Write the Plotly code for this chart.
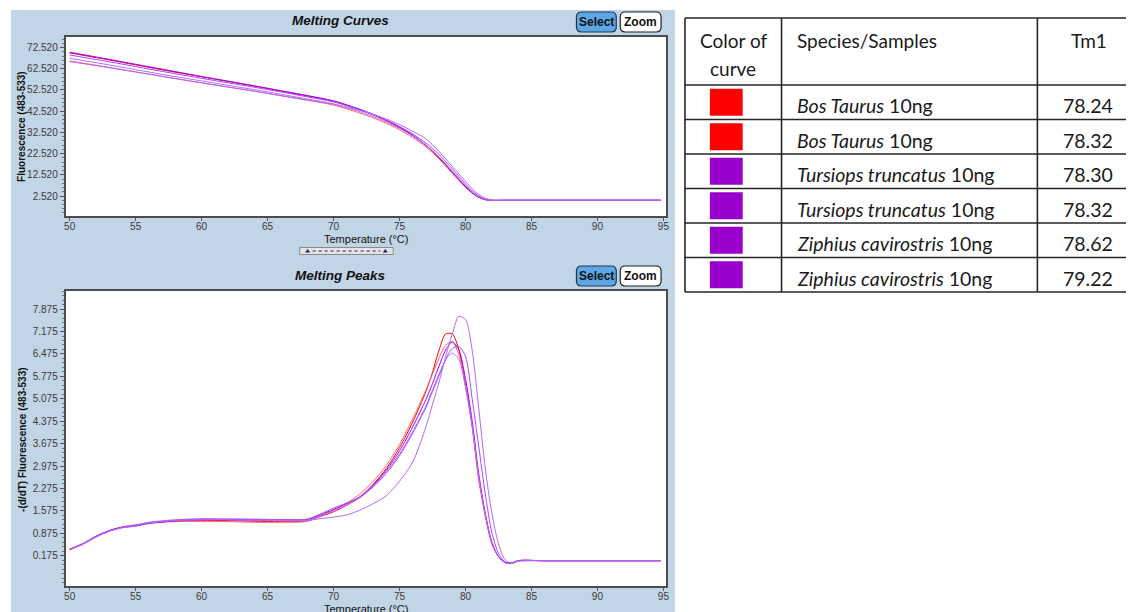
import plotly.graph_objects as go

W, H = 1129, 612

# ---------------- data ----------------
SAMPLE_NAMES = ["Bos Taurus 10ng A", "Bos Taurus 10ng B", "Tursiops truncatus 10ng A",
                "Tursiops truncatus 10ng B", "Ziphius cavirostris 10ng A", "Ziphius cavirostris 10ng B"]
LINE_COLORS = ["#ff0000", "#ff6464", "#9900ff", "#b46eff", "#a347ff", "#b266ff"]

T_CURVE = [50, 52, 54, 56, 58, 60, 62, 64, 66, 68, 70, 72, 73, 74, 75, 76, 77, 78, 79, 80,
           80.5, 81, 81.5, 82, 83, 86, 90, 94.8]
F_BOS_A = [70.0, 67.8, 65.5, 63.2, 60.9, 58.7, 56.5, 54.3, 52.0, 49.7, 47.2, 43.2, 40.8, 38.0, 34.8,
           31.0, 26.3, 20.5, 13.6, 6.8, 4.0, 2.0, 0.8, 0.5, 0.5, 0.5, 0.5, 0.5]
F_BOS_B = [66.2, 64.2, 62.1, 60.0, 57.9, 55.9, 53.9, 51.9, 49.8, 47.7, 45.4, 41.6, 39.4, 36.8, 33.8,
           30.1, 25.7, 20.0, 13.2, 6.6, 3.9, 1.9, 0.8, 0.5, 0.5, 0.5, 0.5, 0.5]
F_TUR_A = [70.3, 68.1, 65.8, 63.5, 61.2, 58.9, 56.7, 54.5, 52.2, 49.9, 47.4, 43.4, 41.0, 38.2, 35.0,
           31.2, 26.5, 20.7, 13.8, 7.0, 4.1, 2.0, 0.8, 0.5, 0.5, 0.5, 0.5, 0.5]
F_TUR_B = [67.4, 65.4, 63.2, 61.0, 58.8, 56.8, 54.7, 52.7, 50.5, 48.3, 46.0, 42.2, 40.0, 37.4, 34.4,
           30.8, 26.4, 20.9, 14.3, 7.5, 4.5, 2.3, 0.9, 0.5, 0.5, 0.5, 0.5, 0.5]
F_ZIP_A = [69.0, 66.9, 64.7, 62.4, 60.2, 58.0, 55.9, 53.8, 51.6, 49.3, 46.9, 43.1, 40.9, 38.3, 35.3,
           31.8, 27.5, 22.0, 15.3, 8.3, 5.0, 2.6, 1.0, 0.5, 0.5, 0.5, 0.5, 0.5]
F_ZIP_B = [65.9, 64.0, 62.0, 60.0, 57.9, 55.9, 53.9, 52.0, 49.9, 47.8, 45.8, 42.8, 41.0, 38.8, 36.2,
           33.0, 29.5, 23.5, 16.5, 9.5, 6.0, 3.3, 1.5, 0.6, 0.5, 0.5, 0.5, 0.5]

T_PEAK = [50, 51, 52, 53, 54, 55, 56, 58, 60, 62, 64, 66, 68, 69, 70, 71, 72, 73, 74, 75, 76, 77,
          77.5, 78, 78.5, 79, 79.5, 80, 80.5, 81, 81.5, 82, 82.5, 83, 83.5, 84, 86, 90, 94.8]
D_BOS_A = [0.38, 0.55, 0.78, 0.95, 1.07, 1.12, 1.20, 1.25, 1.27, 1.27, 1.25, 1.24, 1.26, 1.40, 1.55,
           1.75, 2.00, 2.40, 2.90, 3.55, 4.35, 5.30, 5.90, 6.60, 7.10, 7.10, 6.60, 5.50, 4.25, 2.60,
           1.45, 0.55, 0.15, -0.03, -0.05, 0.02, 0.02, 0.02, 0.02]
D_BOS_B = [0.36, 0.54, 0.77, 0.96, 1.08, 1.14, 1.21, 1.24, 1.25, 1.24, 1.22, 1.22, 1.25, 1.42, 1.60,
           1.82, 2.10, 2.50, 3.00, 3.65, 4.45, 5.35, 5.85, 6.35, 6.75, 6.85, 6.45, 5.45, 4.20, 2.55,
           1.40, 0.55, 0.15, -0.03, -0.05, 0.02, 0.02, 0.02, 0.02]
D_TUR_A = [0.37, 0.55, 0.78, 0.96, 1.06, 1.10, 1.18, 1.26, 1.30, 1.30, 1.30, 1.30, 1.30, 1.45, 1.62,
           1.80, 2.02, 2.38, 2.85, 3.45, 4.20, 5.05, 5.55, 6.10, 6.60, 6.85, 6.60, 5.70, 4.40, 2.75,
           1.50, 0.60, 0.15, -0.04, -0.06, 0.02, 0.02, 0.02, 0.02]
D_TUR_B = [0.36, 0.53, 0.76, 0.94, 1.05, 1.12, 1.22, 1.30, 1.33, 1.33, 1.32, 1.30, 1.28, 1.42, 1.58,
           1.76, 2.00, 2.35, 2.80, 3.35, 4.05, 4.85, 5.35, 5.85, 6.30, 6.50, 6.30, 5.45, 4.25, 2.65,
           1.45, 0.60, 0.15, -0.04, -0.06, 0.02, 0.02, 0.02, 0.02]
D_ZIP_A = [0.38, 0.55, 0.77, 0.95, 1.07, 1.13, 1.20, 1.28, 1.32, 1.30, 1.28, 1.30, 1.32, 1.48, 1.66,
           1.82, 2.00, 2.32, 2.75, 3.30, 4.00, 4.80, 5.30, 5.80, 6.30, 6.65, 6.70, 6.40, 5.10, 3.60,
           2.10, 0.90, 0.25, -0.02, -0.06, 0.02, 0.02, 0.02, 0.02]
D_ZIP_B = [0.37, 0.54, 0.76, 0.94, 1.05, 1.10, 1.20, 1.27, 1.30, 1.30, 1.28, 1.27, 1.28, 1.33, 1.38,
           1.45, 1.60, 1.80, 2.05, 2.50, 3.10, 4.20, 4.90, 5.60, 6.40, 7.10, 7.65, 7.55, 6.60, 4.80,
           2.90, 1.50, 0.55, 0.05, -0.06, 0.00, 0.02, 0.02, 0.02]

CURVES = [F_BOS_A, F_BOS_B, F_TUR_A, F_TUR_B, F_ZIP_A, F_ZIP_B]
PEAKS = [D_BOS_A, D_BOS_B, D_TUR_A, D_TUR_B, D_ZIP_A, D_ZIP_B]

X_TICKS = [50, 55, 60, 65, 70, 75, 80, 85, 90, 95]
Y1_TICKS = [2.52, 12.52, 22.52, 32.52, 42.52, 52.52, 62.52, 72.52]
Y2_TICKS = [0.175, 0.875, 1.575, 2.275, 2.975, 3.675, 4.375, 5.075, 5.775, 6.475, 7.175, 7.875]

# table data
TABLE_HEADERS = ["Color of", "curve", "Species/Samples", "Tm1"]
SWATCH_COLORS = ["#ff0000", "#ff0000", "#9900cc", "#9900cc", "#9900cc", "#9900cc"]
SPECIES = ["Bos Taurus", "Bos Taurus", "Tursiops truncatus", "Tursiops truncatus",
           "Ziphius cavirostris", "Ziphius cavirostris"]
AMOUNT = ["10ng"] * 6
TM1 = ["78.24", "78.32", "78.30", "78.32", "78.62", "79.22"]

# ---------------- helpers ----------------
def px(x):
    return x / W


def py(y):
    return 1 - y / H


def rounded_rect(x0, y0, x1, y1, r):
    rx, ry = r / W, r / H
    X0, X1 = px(x0), px(x1)
    Y0, Y1 = py(y0), py(y1)
    return (f"M {X0+rx},{Y0} L {X1-rx},{Y0} Q {X1},{Y0} {X1},{Y0-ry} "
            f"L {X1},{Y1+ry} Q {X1},{Y1} {X1-rx},{Y1} L {X0+rx},{Y1} "
            f"Q {X0},{Y1} {X0},{Y1+ry} L {X0},{Y0-ry} Q {X0},{Y0} {X0+rx},{Y0} Z")


def note(x, y, text, size, ref=("paper", "paper"), xanchor="center", family=None, color="#111",
         angle=0):
    return dict(xref=ref[0], yref=ref[1], x=x, y=y, text=text, showarrow=False,
                xanchor=xanchor, yanchor="middle", textangle=angle,
                font=dict(family=family or FONT, size=size, color=color))


FONT = "Liberation Sans, Arial, sans-serif"
TFONT = "Lato, Open Sans, sans-serif"

fig = go.Figure()

for name, col, yv in zip(SAMPLE_NAMES, LINE_COLORS, CURVES):
    fig.add_trace(go.Scatter(x=T_CURVE, y=yv, mode="lines", name=name,
                             line=dict(color=col, width=1.0, shape="spline", smoothing=0.8),
                             xaxis="x", yaxis="y", showlegend=False, hoverinfo="skip"))
for name, col, yv in zip(SAMPLE_NAMES, LINE_COLORS, PEAKS):
    fig.add_trace(go.Scatter(x=T_PEAK, y=yv, mode="lines", name=name,
                             line=dict(color=col, width=1.0, shape="spline", smoothing=0.8),
                             xaxis="x2", yaxis="y2", showlegend=False, hoverinfo="skip"))

TICKFONT = dict(family=FONT, size=10, color="#3a3a3a")

x_dom = [px(64), px(667)]
axis_common = dict(showline=True, linecolor="#4d4d4d", linewidth=2, mirror=True,
                   showgrid=False, zeroline=False, ticks="outside", tickcolor="#555",
                   tickfont=TICKFONT)

fig.update_layout(
    width=W, height=H, margin=dict(l=0, r=0, t=0, b=0),
    paper_bgcolor="white", plot_bgcolor="white",
    xaxis=dict(domain=x_dom, anchor="y", range=[49.7, 95.2], tickvals=X_TICKS, ticklen=3,
               ticklabelstandoff=-3, **axis_common),
    yaxis=dict(domain=[py(216), py(37)], anchor="x", range=[-6.9, 77.5], tickvals=Y1_TICKS,
               tickformat=".3f", ticklen=4,
               minor=dict(ticks="outside", ticklen=2, tickcolor="#777", dtick=2, tick0=2.52),
               **axis_common),
    xaxis2=dict(domain=x_dom, anchor="y2", range=[49.7, 95.2], tickvals=X_TICKS, ticklen=3,
                ticklabelstandoff=-3, **axis_common),
    yaxis2=dict(domain=[py(586), py(291)], anchor="x2", range=[-0.77, 8.44], tickvals=Y2_TICKS,
                tickformat=".3f", ticklen=4,
                minor=dict(ticks="outside", ticklen=2, tickcolor="#777", dtick=0.14, tick0=0.175),
                **axis_common),
    xaxis3=dict(domain=[px(683), 1], anchor="y3", range=[-3, 443], visible=False, fixedrange=True),
    yaxis3=dict(domain=[py(295), py(16)], anchor="x3", range=[277, -2], visible=False,
                fixedrange=True),
)

shapes = []
annotations = []

# blue panel and white plot areas
shapes.append(dict(type="rect", xref="paper", yref="paper", x0=px(9), x1=px(676), y0=0, y1=py(10),
                   fillcolor="#c2d5e6", line=dict(width=0), layer="below"))
for (t, b) in ((37, 216), (291, 586)):
    shapes.append(dict(type="rect", xref="paper", yref="paper", x0=px(64), x1=px(667), y0=py(b),
                       y1=py(t), fillcolor="white", line=dict(width=0), layer="below"))

# buttons
for yoff in (0, 254):
    shapes.append(dict(type="path", xref="paper", yref="paper",
                       path=rounded_rect(577, 12 + yoff, 617, 32 + yoff, 5),
                       fillcolor="#5ea7e6", line=dict(color="#1f3550", width=1.2)))
    shapes.append(dict(type="path", xref="paper", yref="paper",
                       path=rounded_rect(621, 12 + yoff, 662, 32 + yoff, 5),
                       fillcolor="white", line=dict(color="#222", width=1.2)))
    annotations.append(note(px(597), py(22 + yoff), "<b>Select</b>", 12))
    annotations.append(note(px(641.5), py(22 + yoff), "<b>Zoom</b>", 12))

# slider widget below top chart
shapes.append(dict(type="rect", xref="paper", yref="paper", x0=px(299), x1=px(393), y0=py(254.5),
                   y1=py(247.5), fillcolor="#e4e4e4", line=dict(color="#8a8a8a", width=1)))
shapes.append(dict(type="line", xref="paper", yref="paper", x0=px(312), x1=px(380), y0=py(251),
                   y1=py(251), line=dict(color="#1a237e", width=1, dash="dot")))
for cx in (307, 385):
    shapes.append(dict(type="path", xref="paper", yref="paper",
                       path=f"M {px(cx-2.5)},{py(252.5)} L {px(cx+2.5)},{py(252.5)} L {px(cx)},{py(249)} Z",
                       fillcolor="#1a237e", line=dict(width=0)))

# titles
annotations += [
    note(px(340), py(21), "<b><i>Melting Curves</i></b>", 13.5),
    note(px(340), py(275.5), "<b><i>Melting Peaks</i></b>", 13.5),
    note(px(365.5), py(239), "Temperature (°C)", 11),
    note(px(365.5), py(609), "Temperature (°C)", 11),
    note(px(20), py(126), "<b>Fluorescence (483-533)</b>", 10, angle=-90),
    note(px(20), py(440), "<b>-(d/dT) Fluorescence (483-533)</b>", 10, angle=-90),
]

# ---------------- table ----------------
HEADER_H = 67
ROW_H = 34.5
COL_X = [0, 97, 354]
TABLE_RIGHT = 460
LINE = dict(color="#262626", width=1.6)
TREF = ("x3", "y3")
TCOL = "#1a1a1a"
n = len(SPECIES)
bottom = HEADER_H + ROW_H * n
for yb in [0, HEADER_H] + [HEADER_H + ROW_H * (i + 1) for i in range(n)]:
    shapes.append(dict(type="line", xref="x3", yref="y3", x0=0, x1=TABLE_RIGHT, y0=yb, y1=yb, line=LINE))
for xc in COL_X:
    shapes.append(dict(type="line", xref="x3", yref="y3", x0=xc, x1=xc, y0=0, y1=bottom, line=LINE))

annotations += [
    note(48.5, 22, TABLE_HEADERS[0], 19, ref=TREF, family=TFONT, color=TCOL),
    note(48.5, 50, TABLE_HEADERS[1], 19, ref=TREF, family=TFONT, color=TCOL),
    note(110.5, 22, TABLE_HEADERS[2], 19, ref=TREF, xanchor="left", family=TFONT, color=TCOL),
    note(405.5, 22, TABLE_HEADERS[3], 19, ref=TREF, family=TFONT, color=TCOL),
]
for i in range(n):
    yc = HEADER_H + ROW_H * (i + 0.5)
    shapes.append(dict(type="rect", xref="x3", yref="y3", x0=25, x1=58, y0=yc - 13.5, y1=yc + 13.5,
                       fillcolor=SWATCH_COLORS[i], line=dict(width=0)))
    annotations.append(note(110.5, yc + 3.5, f"<i>{SPECIES[i]}</i> {AMOUNT[i]}", 19.5, ref=TREF,
                            xanchor="left", family=TFONT, color=TCOL))
    annotations.append(note(405, yc + 3.5, TM1[i], 19.5, ref=TREF, family=TFONT, color=TCOL))

fig.update_layout(shapes=shapes, annotations=annotations)
fig.write_html("out.html")
